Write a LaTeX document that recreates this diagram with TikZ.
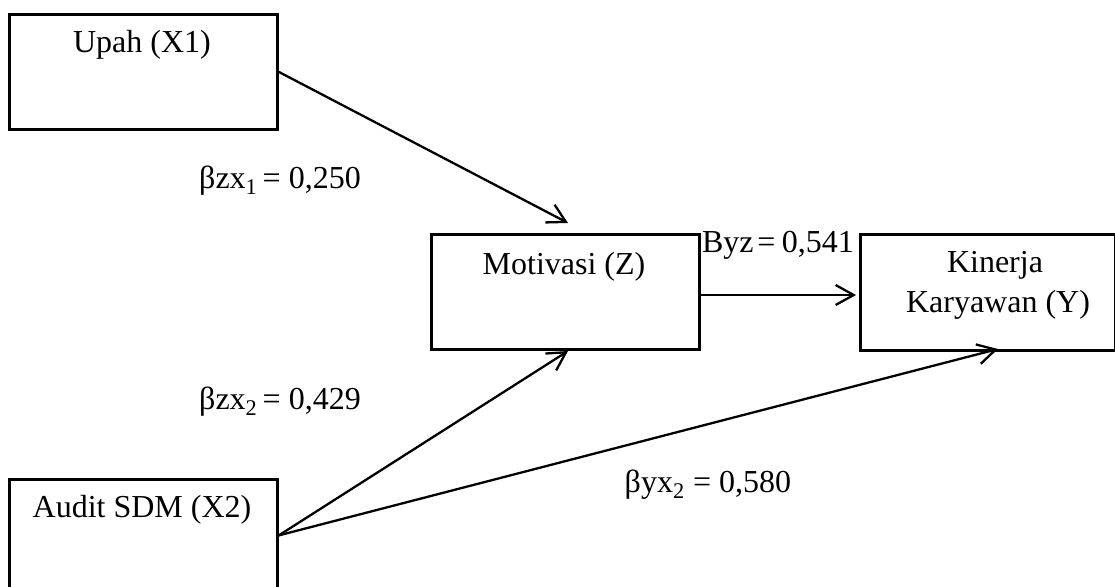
\documentclass[tikz,border=0pt]{standalone}
\usepackage{fontspec}
\setmainfont{Liberation Serif}
\usetikzlibrary{arrows.meta}
\begin{document}
\begin{tikzpicture}[x=0.5pt,y=-0.5pt,
  box/.style={draw,line width=1.4pt,inner sep=0pt,anchor=north west},
  lbl/.style={anchor=base,inner sep=0pt,font=\fontsize{16}{20}\selectfont},
  conn/.style={line width=1.15pt,-{Straight Barb[length=9pt,width=10pt,line width=1.15pt]}}]
\useasboundingbox (0,0) rectangle (1115,587);
\clip (0,0) rectangle (1115,587);
% boxes
\node[box,minimum width=134pt,minimum height=57.5pt] (upah) at (8,13) {};
\node[box,minimum width=134pt,minimum height=57.5pt] (mot) at (430,233) {};
\node[box,minimum width=127.5pt,minimum height=58pt] (kin) at (859,233) {};
\node[box,minimum width=134pt,minimum height=56pt] (audit) at (8,478) {};
% box texts
\node[lbl] (t1) at (142,53) {Upah (X1)};
\node[lbl] (t2) at (564,275) {Motivasi (Z)};
\node[lbl] (t3) at (995,273) {Kinerja};
\node[lbl] (t4) at (998,313) {Karyawan (Y)};
\node[lbl] (t5) at (142,518) {Audit SDM (X2)};
% path labels
\node[lbl] (l1) at (280,189) {βzx\textsubscript{1}\hskip0.15em=\hskip0.25em0,250};
\node[lbl] (l2) at (280,410) {βzx\textsubscript{2}\hskip0.15em=\hskip0.25em0,429};
\node[lbl] (l3) at (778,253) {Byz\hskip0.12em=\hskip0.2em0,541};
\node[lbl] (l4) at (708,493) {βyx\textsubscript{2} = 0,580};
% connector ends
\coordinate (a1) at (568,223);
\coordinate (a2) at (568,351);
\coordinate (a3) at (998,349);
\coordinate (y3) at (0,295);
% connectors
\draw[conn] (upah.east) -- (a1);
\draw[conn] (audit.east) -- (a2);
\draw[conn] (audit.east) -- (a3);
\draw[conn,shorten >=1.5pt] (mot.east |- y3) -- (kin.west |- y3);
\end{tikzpicture}
\end{document}
